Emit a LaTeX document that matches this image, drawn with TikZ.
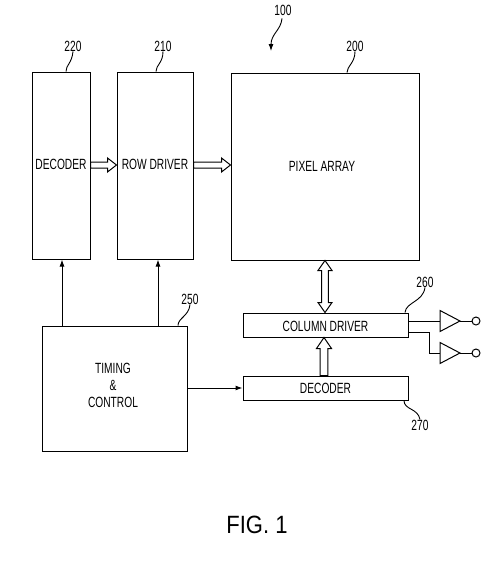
\documentclass[tikz,border=0pt]{standalone}
\usepackage{fontspec}
\usetikzlibrary{arrows.meta,calc}
\newfontfamily\nf[FakeStretch=0.69]{Liberation Sans}
\newfontfamily\ff[FakeStretch=0.88]{Liberation Sans}
\tikzset{
  blk/.style={draw,line width=1pt,inner sep=0pt,font=\nf\fontsize{14.5}{17}\selectfont,align=center},
  lbl/.style={font=\nf\fontsize{14.8}{17}\selectfont,inner sep=0pt},
  wire/.style={line width=1pt},
  tip/.style={-{Latex[length=7pt,width=5pt]}},
  hol/.style={line width=1pt,fill=white},
  lead/.style={line width=0.9pt}
}
\newcommand\harrow[2]{\draw[hol] let \p1=(#1), \p2=(#2) in
  (\x1,\y1+3pt) -- (\x2-9pt,\y1+3pt) -- (\x2-9pt,\y1+7pt) -- (\x2,\y1) -- (\x2-9pt,\y1-7pt) -- (\x2-9pt,\y1-3pt) -- (\x1,\y1-3pt) -- cycle;}
\begin{document}
\begin{tikzpicture}[x=1pt,y=-1pt]
\useasboundingbox (0,0) rectangle (500,565);
% blocks
\node[blk,minimum width=58pt,minimum height=187pt] (dec) at (61,165.5) {};
\node[blk,minimum width=76pt,minimum height=187pt] (rd) at (155,165.5) {};
\node[blk,minimum width=188pt,minimum height=187pt] (pa) at (325,166.5) {};
\node[blk,minimum width=145pt,minimum height=125pt] (tc) at (114.5,388.5) {};
\node[blk,minimum width=165pt,minimum height=24pt] (cd) at (325.5,325) {};
\node[blk,minimum width=165pt,minimum height=24pt] (d2) at (325.5,388) {};
% texts
\node[lbl] at (61,164) {DECODER};
\node[lbl] at (155,164) {ROW DRIVER};
\node[lbl] at (322,166) {PIXEL ARRAY};
\node[lbl] at (325.5,326) {COLUMN DRIVER};
\node[lbl] at (325.5,388) {DECODER};
\node[lbl,align=center] at (113,385) {TIMING\\[0pt]\&\\CONTROL};
% hollow arrows
\harrow{dec.east |- 0,165}{rd.west |- 0,165}
\harrow{rd.east |- 0,165}{pa.west |- 0,165}
% vertical double arrow pa <-> cd
\draw[hol] let \p1=(pa.south -| 325,0), \p2=(cd.north -| 325,0) in
  (\x1,\y1) -- (\x1+7pt,\y1-10pt) -- (\x1+3.3pt,\y1-10pt) -- (\x1+3.3pt,\y2+10pt) -- (\x1+7pt,\y2+10pt) -- (\x1,\y2)
  -- (\x1-7pt,\y2+10pt) -- (\x1-3.3pt,\y2+10pt) -- (\x1-3.3pt,\y1-10pt) -- (\x1-7pt,\y1-10pt) -- cycle;
% decoder -> column driver
\draw[hol] let \p1=(d2.north -| 324,0), \p2=(cd.south -| 324,0) in
  (\x1-3.8pt,\y1) -- (\x1-3.8pt,\y2-11pt) -- (\x1-7.5pt,\y2-11pt) -- (\x1,\y2) -- (\x1+7.5pt,\y2-11pt) -- (\x1+3.8pt,\y2-11pt) -- (\x1+3.8pt,\y1) -- cycle;
% timing arrows
\draw[wire,tip] (tc.north -| 62,0) -- (dec.south -| 62,0);
\draw[wire,tip] (tc.north -| 158,0) -- (rd.south -| 158,0);
\draw[wire,tip] (tc.east |- 0,388) -- (d2.west |- 0,388);
% buffers
\draw[wire] (440,310.5) -- (460,321) -- (440,331.5) -- cycle;
\draw[wire] (440,342.5) -- (460,353) -- (440,363.5) -- cycle;
\coordinate (b1i) at (440,321); \coordinate (b1o) at (460,321);
\coordinate (b2i) at (440,353); \coordinate (b2o) at (460,353);
\node[draw,circle,line width=1pt,minimum size=8pt,inner sep=0pt] (o1) at (476,321) {};
\node[draw,circle,line width=1pt,minimum size=8pt,inner sep=0pt] (o2) at (476,353) {};
\draw[wire] (cd.east |- b1i) -- (b1i);
\draw[wire] (cd.east |- 0,332) -- (429,332) |- (b2i);
\draw[wire] (b1o) -- (o1.west);
\draw[wire] (b2o) -- (o2.west);
% reference labels
\node[lbl] (l220) at (73,46) {220};
\node[lbl] (l210) at (163,46) {210};
\node[lbl] (l200) at (355,46) {200};
\node[lbl] (l260) at (425,282) {260};
\node[lbl] (l250) at (190,299) {250};
\node[lbl] (l270) at (420,425) {270};
\node[lbl] (l100) at (283,10) {100};
\draw[lead] (dec.north -| 66,0) .. controls (66,65) and (72,63) .. (l220.south);
\draw[lead] (rd.north -| 156,0) .. controls (156,65) and (163,63) .. (l210.south);
\draw[lead] (pa.north -| 347,0) .. controls (347,66) and (355,63) .. (l200.south);
\draw[lead] (cd.north -| 405,0) .. controls (406,302) and (423,302) .. (l260.south);
\draw[lead] (tc.north -| 178,0) .. controls (178,318) and (189,316) .. (l250.south);
\draw[lead] (d2.south -| 404,0) .. controls (404,410) and (418,408) .. (l270.north);
\draw[lead,-{Latex[length=7pt,width=5pt]}] (l100.south) ++(-1,3) .. controls (281,30) and (271,34) .. (271,51);
% caption
\node[font=\ff\fontsize{25}{30}\selectfont,inner sep=0pt] (cap) at (257,525) {FIG. 1};
\end{tikzpicture}
\end{document}
